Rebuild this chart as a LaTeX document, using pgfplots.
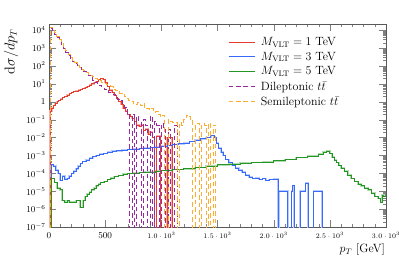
\documentclass[border=0pt]{standalone}
\usepackage{pgfplots}
\usepackage{pgfplotstable}
\pgfplotsset{compat=1.18}
\definecolor{cred}{RGB}{232,60,45}
\definecolor{cblue}{RGB}{55,105,250}
\definecolor{cgreen}{RGB}{35,150,35}
\definecolor{cpurple}{RGB}{155,40,160}
\definecolor{corange}{RGB}{255,172,50}
\newcommand{\tl}[1]{{\fontsize{7.5}{9}\selectfont$#1$}}

\pgfplotstableread{
x y
0 1e-10
10 0.3
25 0.45
40 0.6
55 0.8
70 1.0
85 1.2
100 1.4
120 1.7
140 2.0
160 2.4
180 2.8
200 3.2
220 3.6
240 4.0
260 4.5
280 5.0
300 5.6
320 6.3
340 7.2
360 8.5
380 10
400 12
420 14
440 17
460 20
480 18
500 12
520 7
540 4.5
560 3.2
580 2.2
600 1.5
620 1.0
640 0.7
660 0.45
680 0.3
700 0.2
720 0.15
740 0.12
760 0.08
780 0.05
800 0.04
820 0.05
840 0.025
860 0.03
880 0.015
900 0.02
920 0.01
940 1e-10
955 0.012
995 1e-10
1050 0.01
1095 1e-10
1110 1e-10
}\tred

\pgfplotstableread{
x y
0 1e-10
20 3e-4
40 2.5e-4
60 1.5e-4
80 1e-4
100 4e-5
120 7e-5
140 4.5e-5
160 5e-5
180 7e-5
200 1e-4
220 1.3e-4
240 1.8e-4
260 2.5e-4
280 3.5e-4
300 4.5e-4
330 5.5e-4
360 7e-4
390 8.5e-4
420 1e-3
450 1.2e-3
480 1.3e-3
520 1.5e-3
560 1.7e-3
600 1.8e-3
650 2e-3
700 2.1e-3
750 2.3e-3
800 2.4e-3
850 2.6e-3
900 2.8e-3
950 3e-3
1000 3.3e-3
1050 3.6e-3
1100 4e-3
1150 4.5e-3
1200 5e-3
1250 6e-3
1300 7e-3
1350 8.5e-3
1400 1e-2
1440 1.3e-2
1470 1e-2
1490 5e-3
1510 2.5e-3
1530 1.5e-3
1550 1e-3
1570 6e-4
1600 4e-4
1630 2.8e-4
1660 2e-4
1690 1.5e-4
1720 1.2e-4
1750 8e-5
1780 6e-5
1810 5e-5
1840 5.5e-5
1870 4.5e-5
1900 5e-5
1930 4e-5
1960 4.5e-5
2000 4.7e-5
2040 1e-10
2045 1e-5
2125 1e-10
2160 1e-5
2170 2e-5
2180 1e-10
2235 1e-5
2285 2.8e-5
2305 1e-10
2355 1e-5
2430 1e-10
2440 1e-10
}\tblue

\pgfplotstableread{
x y
0 1e-10
20 5e-5
50 3e-5
70 1.5e-5
100 1.2e-5
115 3e-6
140 2.5e-6
160 3e-6
180 2.5e-6
200 2.5e-6
220 2.5e-6
240 3e-6
260 3e-6
276 1.2e-6
303 3e-6
320 5e-6
340 7e-6
360 9e-6
380 1.2e-5
400 1.5e-5
420 2e-5
440 2.5e-5
460 3e-5
490 3.5e-5
520 4.5e-5
550 5.5e-5
580 6.5e-5
620 7.5e-5
660 9e-5
700 1e-4
750 1.05e-4
800 1.1e-4
850 1.15e-4
900 1.2e-4
950 1.3e-4
1000 1.4e-4
1100 1.6e-4
1200 1.8e-4
1300 2.1e-4
1400 2.6e-4
1500 3e-4
1600 3.3e-4
1700 3.7e-4
1800 4e-4
1900 4.3e-4
2000 5e-4
2100 6e-4
2200 7.5e-4
2300 9e-4
2400 1.2e-3
2440 1.5e-3
2470 1.7e-3
2500 1.3e-3
2520 8e-4
2540 5.5e-4
2560 4e-4
2580 2.8e-4
2600 2e-4
2630 1.3e-4
2660 8e-5
2690 5e-5
2720 3.5e-5
2750 2.5e-5
2780 2e-5
2810 1.5e-5
2840 1.2e-5
2870 8e-6
2900 5e-6
2930 4e-6
2950 2.5e-6
2965 6e-6
2980 5e-6
3000 5e-6
}\tgreen

\pgfplotstableread{
x y
0 1e-10
10 1.2e4
30 9000
50 6000
70 4000
90 2500
110 1500
130 900
150 600
170 400
190 250
210 180
230 130
250 100
270 80
290 60
310 50
330 40
350 30
370 22
390 16
410 12
430 9
450 8
470 6
490 5
510 4
530 3.5
550 3
570 2.5
590 2
610 1.4
630 1.2
650 0.8
670 0.5
690 0.4
700 0.2
720 1e-10
740 0.2
760 1e-10
780 0.15
800 0.08
820 1e-10
840 0.1
860 0.05
880 1e-10
900 0.15
920 1e-10
940 0.08
960 0.05
980 1e-10
1000 0.06
1020 0.03
1040 1e-10
1060 0.03
1080 1e-10
1120 0.05
1140 1e-10
1160 1e-10
}\tdil

\pgfplotstableread{
x y
0 1e-10
10 1.5e4
30 1e4
50 7000
70 4500
90 3000
110 1800
130 1100
150 700
170 450
190 300
210 200
230 150
250 110
270 85
290 65
310 55
330 45
350 35
370 30
390 25
410 20
430 18
450 15
470 12
490 10
510 9
530 8
550 7
570 5
590 4.5
610 4
630 3
650 2.5
670 2
690 1.5
710 1.2
730 1
750 0.8
770 0.7
790 0.9
810 0.6
830 0.8
850 0.5
870 0.4
890 0.35
910 0.4
930 0.25
950 0.3
970 0.2
990 0.15
1010 0.18
1030 1e-10
1060 0.1
1080 0.08
1100 0.07
1120 0.07
1140 1e-10
1160 0.07
1180 0.05
1200 0.1
1220 0.18
1240 0.15
1260 0.1
1280 1e-10
1300 0.06
1320 0.06
1340 1e-10
1360 0.06
1380 0.05
1400 1e-10
1420 0.06
1440 1e-10
1460 0.05
1480 1e-10
1500 1e-10
}\tsemi

\begin{document}
\begin{tikzpicture}
\begin{axis}[
  name=ax,
  scale only axis,
  width=337bp, height=203bp,
  ymode=log,
  xmin=0, xmax=3000,
  ymin=1e-7, ymax=2.2e4,
  xtick={0,500,...,3000},
  xticklabels={$0$,$500$,\tl{1.0\cdot10^{3}},\tl{1.5\cdot10^{3}},\tl{2.0\cdot10^{3}},\tl{2.5\cdot10^{3}},\tl{3.0\cdot10^{3}}},
  minor x tick num=4,
  ytick={1e-7,1e-6,1e-5,1e-4,1e-3,1e-2,1e-1,1,10,100,1000,10000},
  yticklabels={$10^{-7}$,$10^{-6}$,$10^{-5}$,$10^{-4}$,$10^{-3}$,$10^{-2}$,$10^{-1}$,$1$,$10^{1}$,$10^{2}$,$10^{3}$,$10^{4}$},
  x tick label style={font=\fontsize{9}{10}\selectfont, text height=7pt, yshift=-1pt},
  y tick label style={font=\fontsize{9}{10}\selectfont},
  major tick length=7pt, minor tick length=3.5pt,
  every major tick/.append style={gray},
  every minor tick/.append style={gray},
  axis line style={gray!70!black},
  xlabel={$p_T$ [GeV]},
  ylabel={$\mathrm{d}\sigma/dp_T$},
  xlabel style={at={(axis description cs:1,-0.075)}, anchor=north east, inner sep=1pt, font=\large},
  ylabel style={at={(axis description cs:-0.088,0.98)}, anchor=south east, inner sep=1pt, font=\fontsize{13.5}{16}\selectfont},
  legend style={draw=none, fill=none, at={(0.522,0.955)}, anchor=north west,
    font=\fontsize{12}{14}\selectfont, row sep=1pt, cells={anchor=west},
    /tikz/every odd column/.append style={column sep=4pt}},
  legend image code/.code={\draw[#1] (0bp,0bp) -- (26bp,0bp);},
  const plot,
]
\addplot[cred!40, line width=1.4pt, forget plot] table {\tred};
\addplot[cblue!35, line width=1.6pt, forget plot] table {\tblue};
\addplot[cgreen!35, line width=1.6pt, forget plot] table {\tgreen};
\addplot[cred, line width=0.7pt] table {\tred};
\addlegendentry{$M_{\mathrm{VLT}}=1$ TeV}
\addplot[cblue, line width=0.7pt] table {\tblue};
\addlegendentry{$M_{\mathrm{VLT}}=3$ TeV}
\addplot[cgreen, line width=0.7pt] table {\tgreen};
\addlegendentry{$M_{\mathrm{VLT}}=5$ TeV}
\addplot[cpurple, line width=0.9pt, dash pattern=on 4.5pt off 3pt] table {\tdil};
\addlegendentry{Dileptonic $t\bar{t}$}
\addplot[corange, line width=0.9pt, dash pattern=on 4.5pt off 3pt] table {\tsemi};
\addlegendentry{Semileptonic $t\bar{t}$}
\end{axis}
\pgfresetboundingbox
\path ([xshift=-49bp,yshift=-32bp]ax.south west) rectangle ([xshift=13bp,yshift=24bp]ax.north east);
\end{tikzpicture}
\end{document}
